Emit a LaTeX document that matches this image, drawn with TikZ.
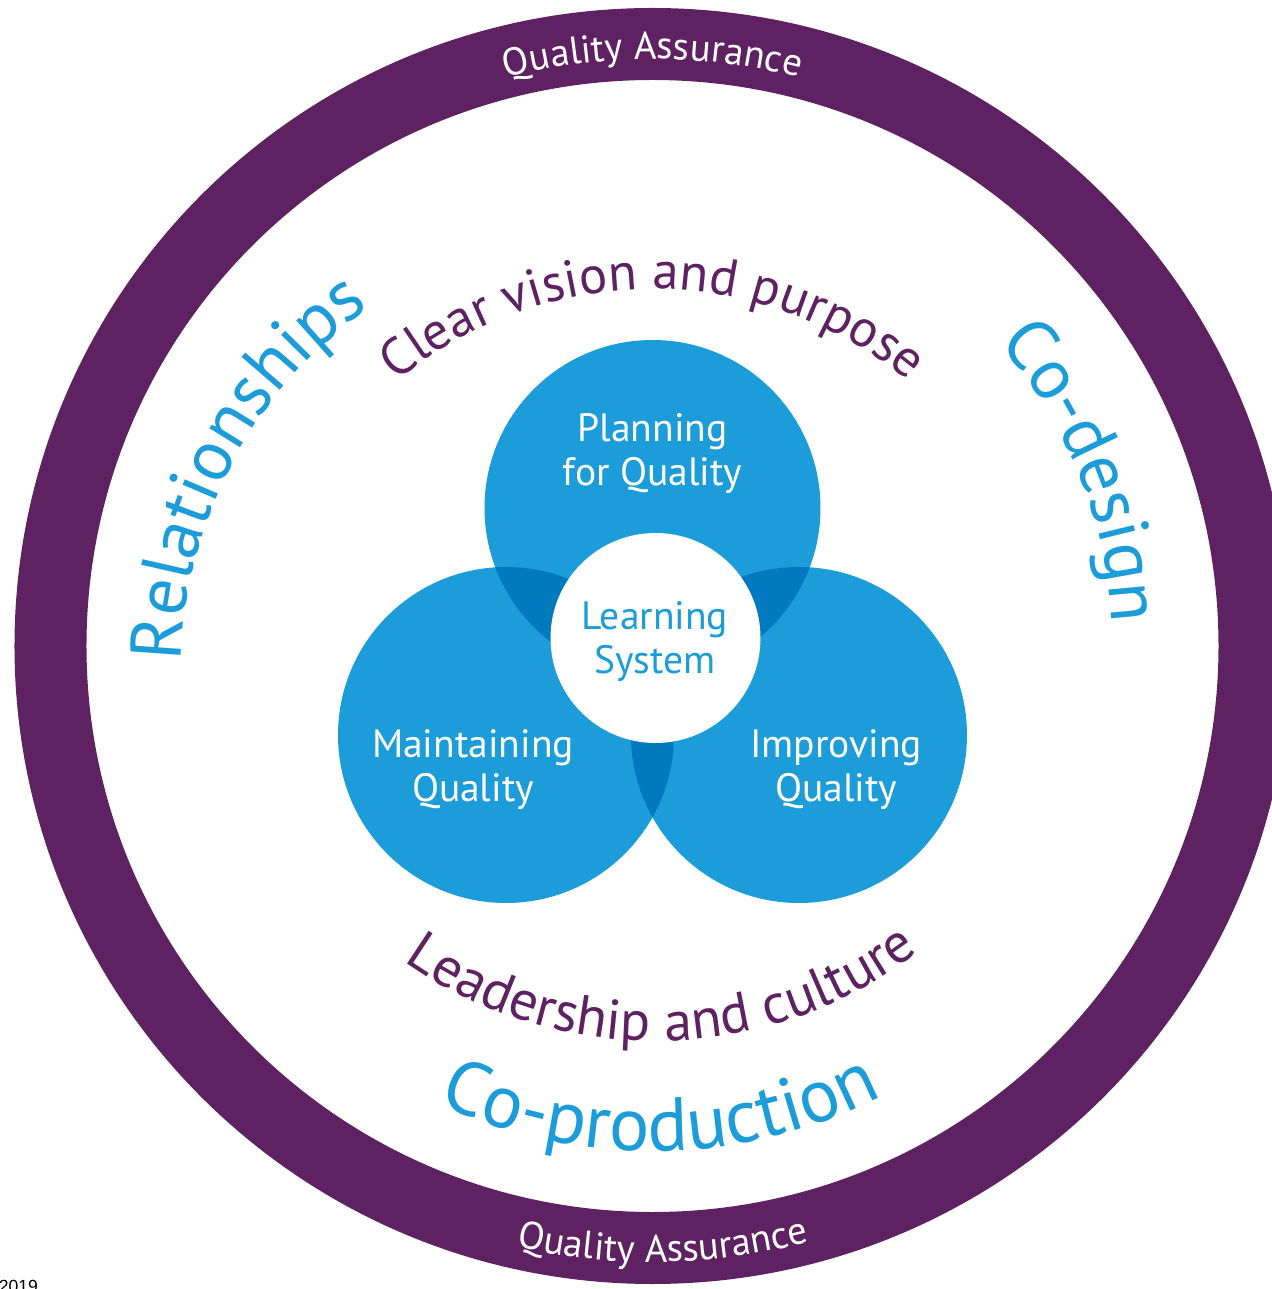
\documentclass[tikz,border=0pt]{standalone}
\usepackage{fontspec}
\setmainfont{PT Sans}
\newfontfamily\yearfamily{Liberation Sans}
\usetikzlibrary{decorations.text}
\definecolor{qapurple}{RGB}{94,34,98}
\definecolor{qablue}{RGB}{28,157,217}
\definecolor{qadark}{RGB}{0,121,191}
\newcommand\bigarcfont{\fontsize{41}{48}\selectfont}
\newcommand\prodarcfont{\fontsize{43}{50}\selectfont}
\newcommand\midarcfont{\fontsize{30}{36}\selectfont}
\newcommand\lowarcfont{\fontsize{32}{38}\selectfont}
\newcommand\ringfont{\fontsize{22}{26}\selectfont}
\newcommand\circfont{\fontsize{22.5}{25}\selectfont}

\begin{document}
\begin{tikzpicture}
  \tikzset{
    circlabel/.style={align=center, text=white, font=\circfont, inner sep=0pt},
    arctext/.style={decorate, decoration={text along path, text align=center, text={#1}}}
  }
  \useasboundingbox (-13.05,-12.86) rectangle (12.37,12.92);

  % Quality assurance ring
  \fill[qapurple, even odd rule] (0,0) circle (12.76) (0,0) circle (11.32);

  % Three circles
  \fill[qablue] (0,2.76) circle (3.36);
  \fill[qablue] (-2.93,-1.78) circle (3.36);
  \fill[qablue] (2.93,-1.78) circle (3.36);

  % Overlaps
  \begin{scope}
    \clip (0,2.76) circle (3.36);
    \fill[qadark] (-2.93,-1.78) circle (3.36);
    \fill[qadark] (2.93,-1.78) circle (3.36);
  \end{scope}
  \begin{scope}
    \clip (-2.93,-1.78) circle (3.36);
    \fill[qadark] (2.93,-1.78) circle (3.36);
  \end{scope}

  % Learning system in the middle
  \fill[white] (0.06,0.16) circle (2.1);

  % Labels
  \node[circlabel] (plan) at (0,3.84) {Planning\\for Quality};
  \node[circlabel] (maint) at (-3.59,-2.48) {Maintaining\\Quality};
  \node[circlabel] (impr) at (3.67,-2.48) {Improving\\Quality};
  \node[circlabel, text=qablue] (learn) at (0.05,0.08) {Learning\\System};

  % Ring texts
  \path[arctext={|\ringfont\color{white}|Quality Assurance}]
    (120:11.74) arc[start angle=120, end angle=60, radius=11.74];
  \path[arctext={|\ringfont\color{white}|Quality Assurance}]
    (241:12.32) arc[start angle=241, end angle=301, radius=12.32];

  % Inner texts
  \path[shift={(0,-0.88)}, arctext={|\midarcfont\color{qapurple}|Clear vision and purpose}]
    (140:8.02) arc[start angle=140, end angle=40, radius=8.02];
  \path[shift={(0.05,0.82)}, arctext={|\lowarcfont\color{qapurple}|Leadership and culture}]
    (221:8.72) arc[start angle=221, end angle=321, radius=8.72];
  \path[shift={(-0.49,-0.52)}, arctext={|\bigarcfont\color{qablue}|Relationships}]
    (202:8.94) arc[start angle=202, end angle=102, radius=8.94];
  \path[arctext={|\bigarcfont\color{qablue}|Co-design}]
    (62:9.2) arc[start angle=62, end angle=-18, radius=9.2];
  \path[arctext={|\prodarcfont\color{qablue}|Co-production}]
    (231:10.1) arc[start angle=231, end angle=311, radius=10.1];

  % Year, cut by the page edge
  \node[anchor=north west, inner sep=0pt, font=\yearfamily\fontsize{10}{12}\selectfont] (year) at (-13.08,-12.68) {2019};
\end{tikzpicture}
\end{document}
